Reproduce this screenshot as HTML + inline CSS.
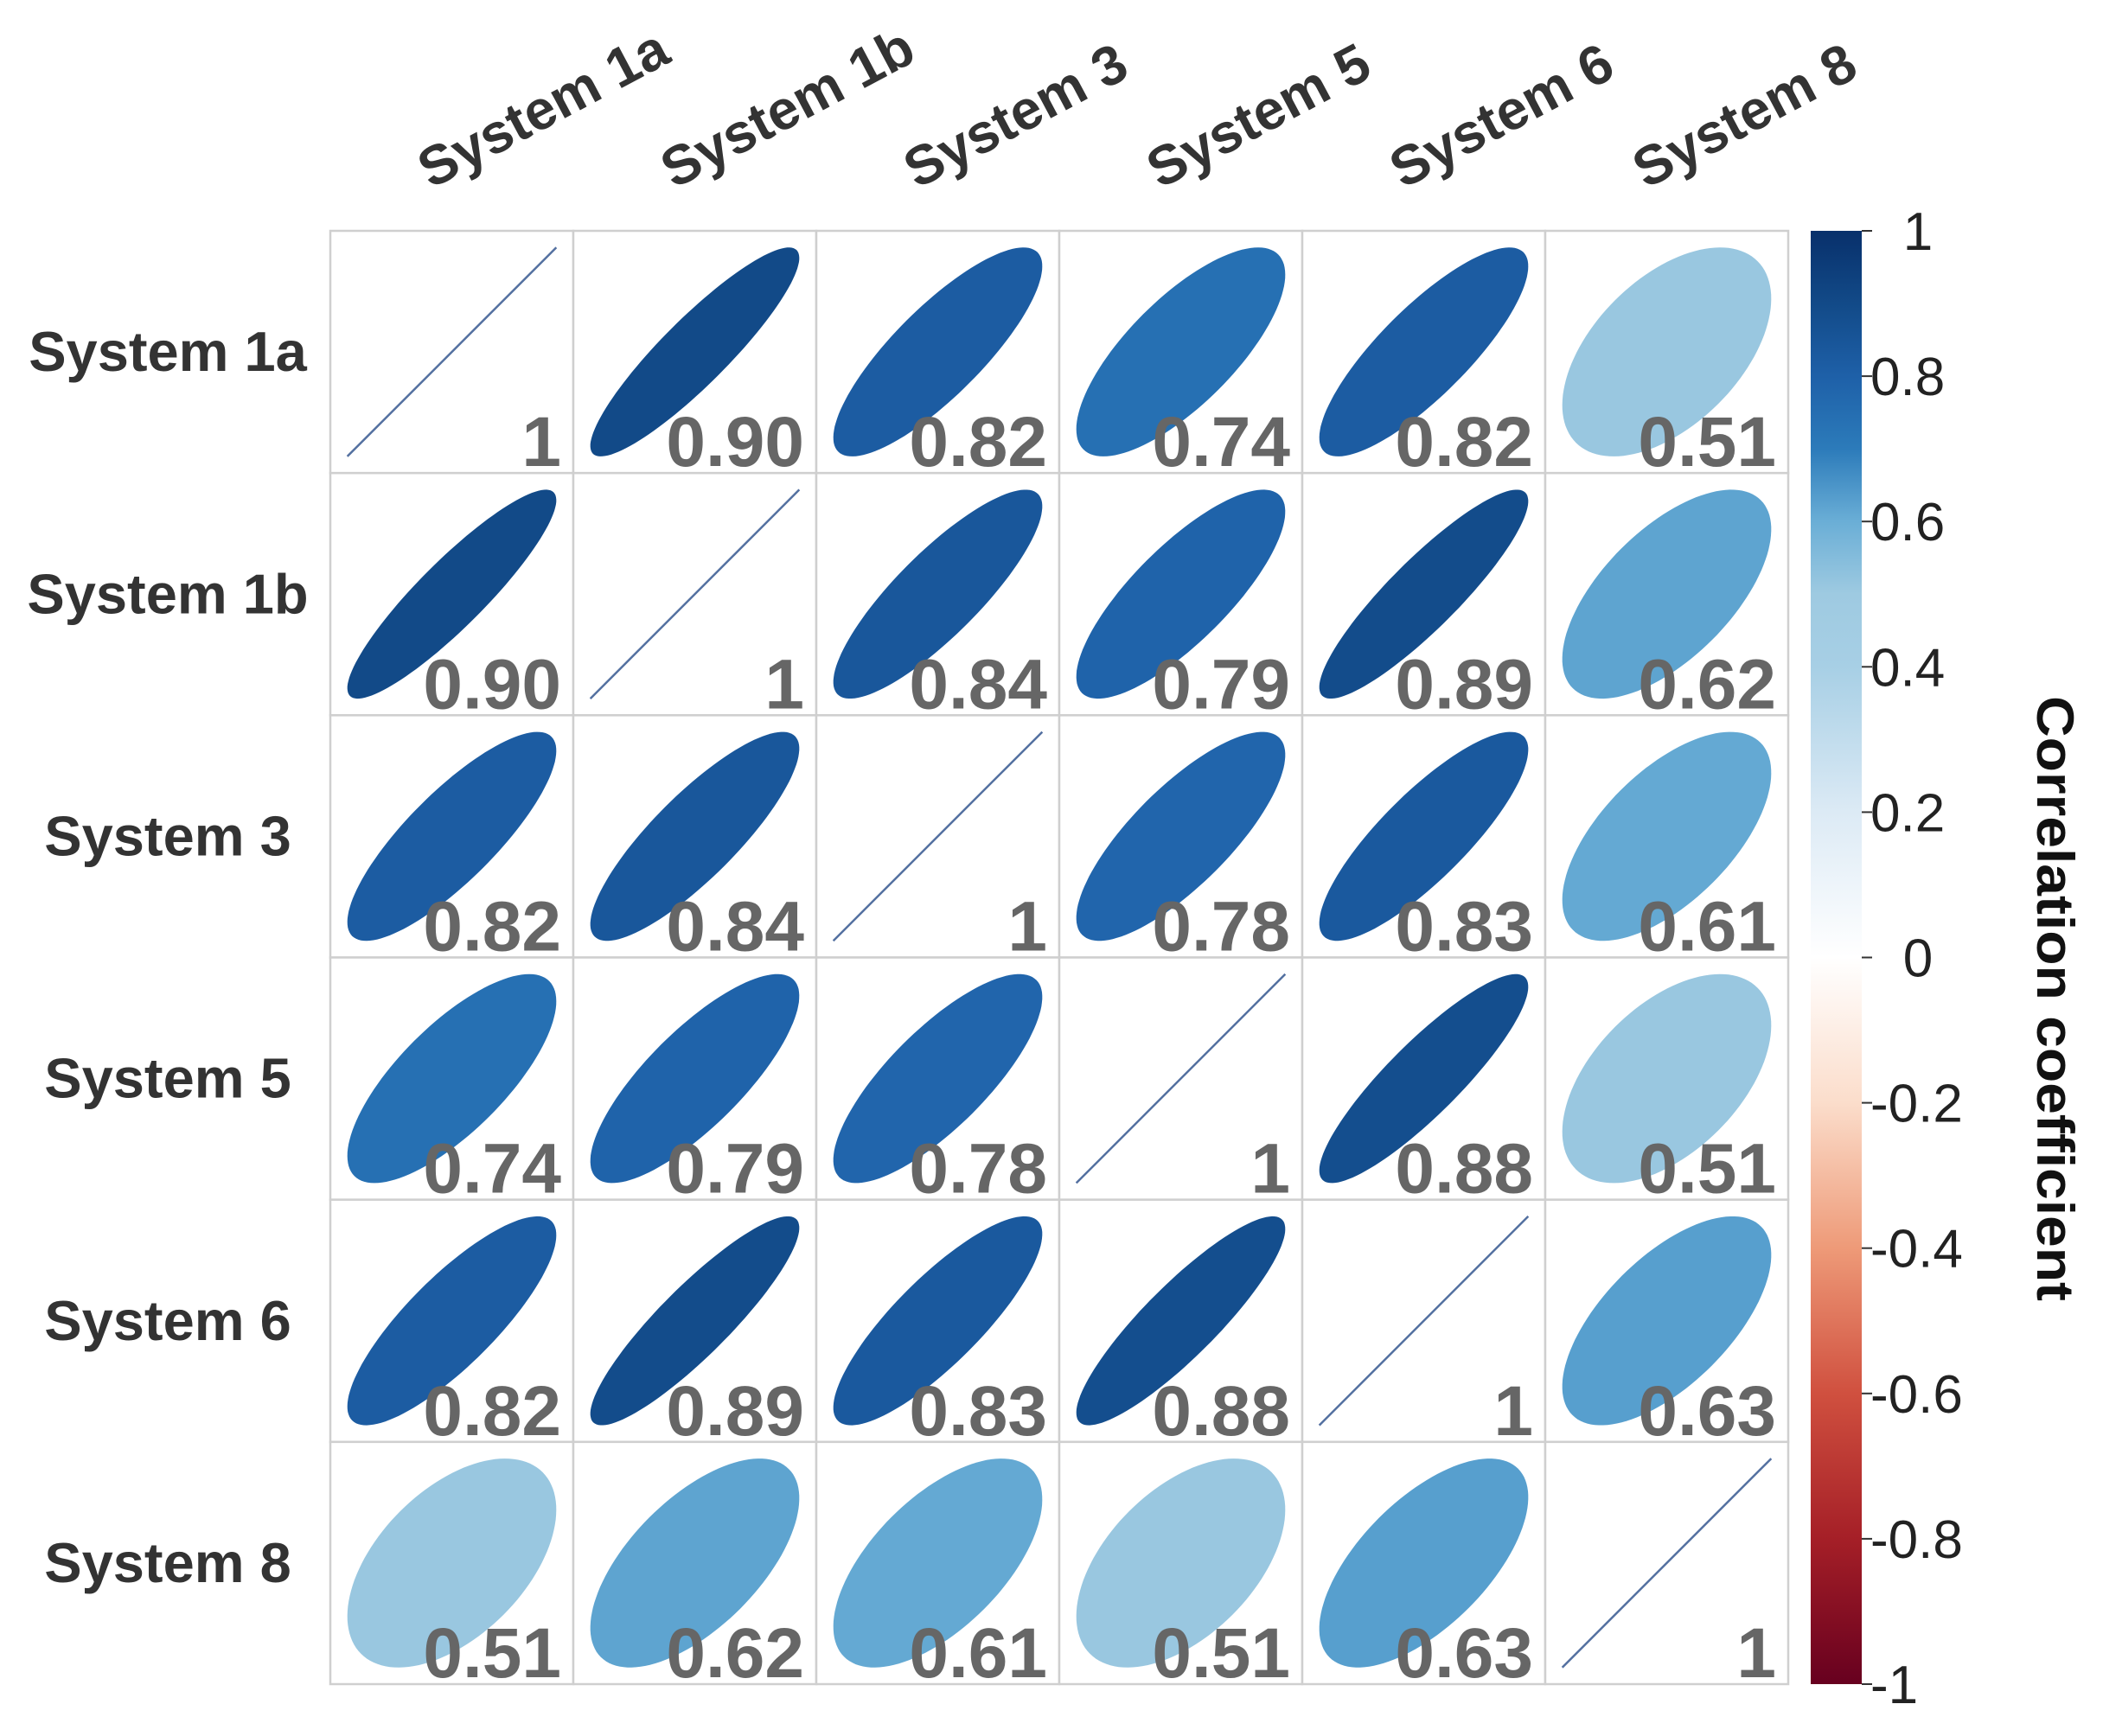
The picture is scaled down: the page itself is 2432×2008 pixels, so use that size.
<!DOCTYPE html>
<html><head><meta charset="utf-8"><style>
html,body{margin:0;padding:0;background:#fff;}
svg{display:block;}
</style></head><body>
<svg id="chart" width="2432" height="2008" viewBox="0 0 2432 2008" xmlns="http://www.w3.org/2000/svg"></svg>
<script>
const systems = ["System 1a","System 1b","System 3","System 5","System 6","System 8"];
const row1a = [1, 0.90, 0.82, 0.74, 0.82, 0.51];
const row1b = [0.90, 1, 0.84, 0.79, 0.89, 0.62];
const row3  = [0.82, 0.84, 1, 0.78, 0.83, 0.61];
const row5  = [0.74, 0.79, 0.78, 1, 0.88, 0.51];
const row6  = [0.82, 0.89, 0.83, 0.88, 1, 0.63];
const row8  = [0.51, 0.62, 0.61, 0.51, 0.63, 1];
const matrix = [row1a, row1b, row3, row5, row6, row8];
const cbTicks = [1, 0.8, 0.6, 0.4, 0.2, 0, -0.2, -0.4, -0.6, -0.8, -1];
const cbTickLabels = ["1","0.8","0.6","0.4","0.2","0","-0.2","-0.4","-0.6","-0.8","-1"];

const NS = "http://www.w3.org/2000/svg";
const svg = document.getElementById('chart');
const gx0 = 382, gy0 = 267, gx1 = 2068, gy1 = 1948;
const n = systems.length;
const cw = (gx1-gx0)/n, ch = (gy1-gy0)/n;
const stopVals = [-1,-0.8,-0.6,-0.4,-0.2,0,0.2,0.4,0.5,0.6,0.7,0.8,0.9,1];
const stopCols = ["#67001F","#A51F27","#D0503F","#EE9A78","#FBDDCB","#FFFFFF","#DCEAF5","#A7CFE5","#9ECAE1","#6AAED6","#2C7BBA","#1E60A8","#124A88","#08306B"];
function hex2rgb(h){return [parseInt(h.substr(1,2),16),parseInt(h.substr(3,2),16),parseInt(h.substr(5,2),16)];}
function colorFor(r){
  let i=0; while(i<stopVals.length-2 && r>stopVals[i+1]) i++;
  const f=(r-stopVals[i])/(stopVals[i+1]-stopVals[i]);
  const a = hex2rgb(stopCols[i]), b = hex2rgb(stopCols[i+1]);
  return "rgb("+a.map((v,k)=>Math.round(v+(b[k]-v)*f)).join(",")+")";
}
function mk(tag, attrs){const e=document.createElementNS(NS,tag);for(const k in attrs)e.setAttribute(k,attrs[k]);svg.appendChild(e);return e;}
const xCenter = j => gx0 + cw*(j+0.5);
const yCenter = i => gy0 + ch*(i+0.5);

for(let i=0;i<n;i++){
  for(let j=0;j<n;j++){
    const r = matrix[i][j];
    const cell = mk('rect',{x:gx0+cw*j,y:gy0+ch*i,width:cw,height:ch,fill:'#fff',stroke:'#cfcfcf','stroke-width':2.5});
    
    
    const cx = xCenter(j), cy = yCenter(i), s = 0.43*cw;
    if(r >= 0.999){
      const ln = mk('line',{x1:cx-s,y1:cy+s,x2:cx+s,y2:cy-s,stroke:'#5370a0','stroke-width':2.5});
      
      
    } else {
      const d = Math.acos(r);
      let pts = [];
      for(let k=0;k<120;k++){
        const t = k/120*2*Math.PI;
        pts.push((cx + s*Math.cos(t+d/2)).toFixed(1)+","+(cy - s*Math.cos(t-d/2)).toFixed(1));
      }
      const el = mk('polygon',{points:pts.join(' '),fill:colorFor(r)});
      
      
    }
    const txt = mk('text',{x:gx0+cw*(j+1)-14,y:gy0+ch*(i+1)-8,'text-anchor':'end','font-family':'Liberation Sans, sans-serif','font-weight':'bold','font-size':82,fill:'#666'});
    txt.textContent = (r>=0.999) ? "1" : r.toFixed(2);
    
    
  }
}
for(let i=0;i<n;i++){
  const t = mk('text',{x:194,y:yCenter(i)+22,'text-anchor':'middle','font-family':'Liberation Sans, sans-serif','font-weight':'bold','font-size':65,fill:'#333'});
  t.textContent = systems[i];
  
  
}
for(let j=0;j<n;j++){
  const x = xCenter(j)-24, y = 219;
  const t = mk('text',{x:x,y:y,transform:'rotate(-28 '+x+' '+y+')','font-family':'Liberation Sans, sans-serif','font-weight':'bold','font-size':64,fill:'#333'});
  t.textContent = systems[j];
  
  
}
const cbx = 2094, cbw = 59, cby0 = 267, cby1 = 1948;
const defs = mk('defs',{});
const grad = document.createElementNS(NS,'linearGradient');
grad.setAttribute('id','cbgrad');grad.setAttribute('x1','0');grad.setAttribute('y1','1');grad.setAttribute('x2','0');grad.setAttribute('y2','0');
stopCols.forEach((c,k)=>{const st=document.createElementNS(NS,'stop');st.setAttribute('offset',(stopVals[k]+1)/2);st.setAttribute('stop-color',c);grad.appendChild(st);});
defs.appendChild(grad);
const cb = mk('rect',{x:cbx,y:cby0,width:cbw,height:cby1-cby0,fill:'url(#cbgrad)'});


const cbY = v => cby0 + (1-v)/2*(cby1-cby0);
cbTicks.forEach((v,k)=>{
  const y = cbY(v);
  const tk = mk('line',{x1:cbx+cbw,y1:y,x2:cbx+cbw+12,y2:y,stroke:'#333','stroke-width':2});
  
  
  const lab = mk('text',{x:(v===0||v===1)?2218:2163,y:y+22,'text-anchor':(v===0||v===1)?'middle':'start','font-family':'Liberation Sans, sans-serif','font-size':62,fill:'#222'});
  lab.textContent = cbTickLabels[k];
  
  
});
const title = mk('text',{x:2356,y:1155,transform:'rotate(90 2356 1155)','text-anchor':'middle','font-family':'Liberation Sans, sans-serif','font-weight':'bold','font-size':60,fill:'#111',textLength:700,lengthAdjust:'spacingAndGlyphs'});
title.textContent = "Correlation coefficient";


</script>
</body></html>
